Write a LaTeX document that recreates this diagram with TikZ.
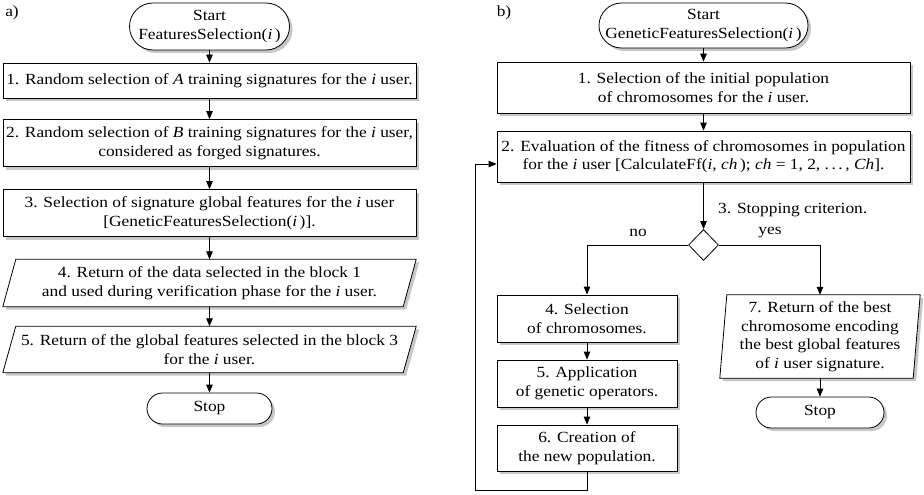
\documentclass[tikz,border=0pt]{standalone}
\usepackage{fontspec}
\setmainfont[FakeStretch=1.12]{Liberation Serif}
\usetikzlibrary{arrows.meta,shapes.geometric,shadows,backgrounds}
\begin{document}
\begin{tikzpicture}[x=1pt,y=-1pt,
  every node/.style={font=\fontsize{15.5}{18.5}\selectfont, inner sep=0pt, align=center},
  shad/.style={drop shadow={shadow xshift=3pt,shadow yshift=-3pt,fill=black!22,opacity=1}},
  rbox/.style={draw,fill=white,line width=0.8pt,shad},
  term/.style={draw,fill=white,line width=0.8pt,shad,rounded corners=#1},
  ptext/.style={},
  pshape/.style={draw,fill=white,line width=0.8pt,shad},
  decide/.style={diamond,draw,fill=white,line width=0.8pt,minimum width=30pt,minimum height=31pt,inner sep=0pt},
  arr/.style={line width=0.8pt,-{Triangle[length=8pt,width=6.5pt]}},
]
\useasboundingbox (0,0) rectangle (924,495);

% ---------- a) ----------
\node (la) at (12,13) {a)};
\node[term=23.5pt, minimum width=160pt, minimum height=47pt] (s1) at (209.5,26.5)
  {Start\\FeaturesSelection(\textit{i}\,)};
\node[rbox, minimum width=413pt, minimum height=35pt] (b1) at (209.5,80.5)
  {1. Random selection of \textit{A} training signatures for the \textit{i} user.};
\node[rbox, minimum width=413pt, minimum height=47pt] (b2) at (209.5,143)
  {2. Random selection of \textit{B} training signatures for the \textit{i} user,\\considered as forged signatures.};
\node[rbox, minimum width=413pt, minimum height=47pt] (b3) at (209.5,213)
  {3. Selection of signature global features for the \textit{i} user\\{[}GeneticFeaturesSelection(\textit{i}\,){]}.};
\node[ptext, minimum width=413pt, minimum height=47pt] (p4) at (209.5,283)
  {4. Return of the data selected in the block 1\\and used during verification phase for the \textit{i} user.};
\node[ptext, minimum width=413pt, minimum height=46pt] (p5) at (209.5,349.5)
  {5. Return of the global features selected in the block 3\\for the \textit{i} user.};
\node[term=15.5pt, minimum width=125pt, minimum height=31pt] (st1) at (209.5,408.5) {Stop};

% ---------- b) ----------
\node (lb) at (504,13) {b)};
\node[term=22.5pt, minimum width=209pt, minimum height=45pt] (s2) at (703.5,25.5)
  {Start\\GeneticFeaturesSelection(\textit{i}\,)};
\node[rbox, minimum width=413pt, minimum height=51pt] (r1) at (703.5,87.5)
  {1. Selection of the initial population\\of chromosomes for the \textit{i} user.};
\node[rbox, minimum width=413pt, minimum height=51pt] (r2) at (703.5,156.5)
  {2. Evaluation of the fitness of chromosomes in population\\for the \textit{i} user {[}CalculateFf(\textit{i}, \textit{ch}\,); \textit{ch} = 1, 2, .\,.\,.\,, \textit{Ch}{]}.};
\node[decide] (d) at (703.5,245) {};
\node[anchor=west] (crit) at (718,210) {3. Stopping criterion.};
\node (no) at (638,233) {no};
\node (yes) at (770,233) {yes};
\node[rbox, minimum width=180pt, minimum height=47pt] (r4) at (587,318.5)
  {4. Selection\\of chromosomes.};
\node[rbox, minimum width=180pt, minimum height=47pt] (r5) at (587,383.5)
  {5. Application\\of genetic operators.};
\node[rbox, minimum width=180pt, minimum height=46pt] (r6) at (587,448)
  {6. Creation of\\the new population.};
\node[ptext, minimum width=200pt, minimum height=83pt] (r7) at (820,336.5)
  {7. Return of the best\\chromosome encoding\\the best global features\\of \textit{i} user signature.};
\node[term=15.5pt, minimum width=128pt, minimum height=31pt] (st2) at (820,412.5) {Stop};

% ---------- parallelograms ----------
\begin{scope}[on background layer]
\path[pshape] ([xshift=13pt]p4.north west) -- (p4.north east) -- ([xshift=-13pt]p4.south east) -- (p4.south west) -- cycle;
\path[pshape] ([xshift=13pt]p5.north west) -- (p5.north east) -- ([xshift=-13pt]p5.south east) -- (p5.south west) -- cycle;
\path[pshape] ([xshift=7pt]r7.north west) -- (r7.north east) -- ([xshift=-7pt]r7.south east) -- (r7.south west) -- cycle;
\end{scope}

% ---------- connectors ----------
\draw[arr] (s1.south) -- (b1.north);
\draw[arr] (b1.south) -- (b2.north);
\draw[arr] (b2.south) -- (b3.north);
\draw[arr] (b3.south) -- (p4.north);
\draw[arr] (p4.south) -- (p5.north);
\draw[arr] (p5.south) -- (st1.north);

\draw[arr] (s2.south) -- (r1.north);
\draw[arr] (r1.south) -- (r2.north);
\draw[arr] (r2.south) -- (d.north);
\draw[arr] (d.west) -| (r4.north);
\draw[arr] (d.east) -| (r7.north);
\draw[arr] (r4.south) -- (r5.north);
\draw[arr] (r5.south) -- (r6.north);
\draw[arr] (r7.south) -- (st2.north);
\coordinate (lp) at (475,490);
\draw[arr] (r6.south) |- (lp) |- ([yshift=-7.5pt]r2.west);
\end{tikzpicture}
\end{document}
